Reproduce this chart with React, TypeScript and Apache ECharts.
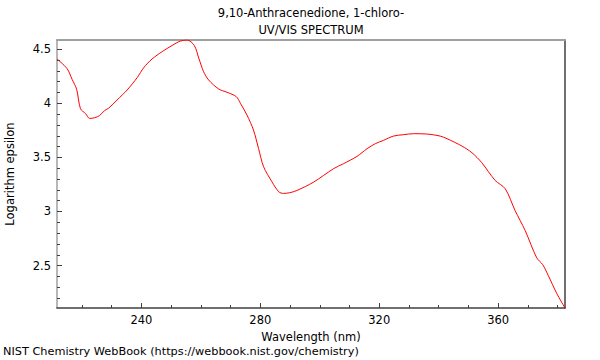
import React, { useEffect, useRef } from "react";
import * as echarts from "echarts";

const wavelengths = [
  211.6, 215.0, 216.7, 218.2, 219.5, 221.2, 222.6, 224.3, 225.9, 227.7, 229.0,
  231.8, 235.2, 238.6, 240.8, 243.6, 247.0, 250.3, 253.1, 255.4, 257.8, 259.3,
  260.9, 262.6, 266.0, 268.8, 271.9, 273.3, 275.5, 277.7, 279.4, 281.1, 283.9,
  286.2, 287.8, 289.8, 292.3, 297.9, 304.6, 308.0, 312.5, 315.9, 318.7, 321.4,
  324.8, 328.2, 331.5, 336.0, 340.5, 342.8, 347.8, 351.2, 354.5, 359.0, 362.4,
  365.7, 369.1, 373.0, 375.0, 376.9, 379.7, 382.5,
];
const logEpsilon = [
  4.41, 4.32, 4.22, 4.13, 3.95, 3.905, 3.86, 3.867, 3.886, 3.935, 3.955,
  4.03, 4.123, 4.238, 4.33, 4.41, 4.478, 4.534, 4.575, 4.585, 4.534, 4.417,
  4.293, 4.216, 4.132, 4.102, 4.062, 4.0, 3.892, 3.753, 3.583, 3.414, 3.275,
  3.182, 3.167, 3.173, 3.194, 3.271, 3.395, 3.442, 3.509, 3.58, 3.627, 3.657,
  3.697, 3.71, 3.719, 3.716, 3.697, 3.673, 3.605, 3.543, 3.451, 3.287, 3.21,
  3.009, 2.824, 2.571, 2.509, 2.407, 2.244, 2.108,
];
const xMajorTicks = [240, 280, 320, 360];
const xMinorTicks = [220, 230, 250, 260, 270, 290, 300, 310, 330, 340, 350, 370, 380];
const yMajorTicks = [2.5, 3, 3.5, 4, 4.5];
const yMinorTicks = [2.2, 2.3, 2.4, 2.6, 2.7, 2.8, 2.9, 3.1, 3.2, 3.3, 3.4, 3.6, 3.7, 3.8, 3.9, 4.1, 4.2, 4.3, 4.4];

const X_MIN = 211.6;
const X_MAX = 382.5;
const Y_MIN = 2.108;
const Y_MAX = 4.585;

const FONT = "DejaVu Sans";
const FS = 11.5;
const DARK = "#404040";
const GREY = "#a0a0a0";

export default function App() {
  const ref = useRef<HTMLDivElement>(null);
  useEffect(() => {
    if (!ref.current) return;
    const chart = echarts.init(ref.current, undefined, { renderer: "svg" });
    const base = { type: "value" as const, min: X_MIN, max: X_MAX, splitLine: { show: false } };
    const ybase = { type: "value" as const, min: Y_MIN, max: Y_MAX, splitLine: { show: false } };
    chart.setOption({
      animation: false,
      backgroundColor: "#fff",
      title: {
        text: "9,10-Anthracenedione, 1-chloro-\nUV/VIS SPECTRUM",
        left: 311,
        top: 4,
        padding: 0,
        textAlign: "center",
        textStyle: { fontFamily: FONT, fontSize: FS, fontWeight: "normal", color: "#000", lineHeight: 17 },
      },
      graphic: [
        {
          type: "text",
          left: 3,
          top: 346,
          style: { text: "NIST Chemistry WebBook (https://webbook.nist.gov/chemistry)", font: `11.3px '${FONT}'`, fill: "#000" },
        },
      ],
      grid: { left: 57, right: 35, top: 40, bottom: 52, containLabel: false, outerBoundsMode: "none" },
      xAxis: [
        {
          ...base,
          position: "bottom",
          name: "Wavelength (nm)",
          nameLocation: "middle",
          nameGap: 12,
          nameTextStyle: { fontFamily: FONT, fontSize: FS, color: "#000" },
          axisLine: { show: true, lineStyle: { color: DARK, width: 1.5 } },
          axisTick: { show: true, inside: true, length: 5, customValues: xMajorTicks, lineStyle: { color: DARK } },
          axisLabel: { show: true, customValues: xMajorTicks, margin: 6, fontFamily: FONT, fontSize: FS, color: "#000" },
        },
        {
          ...base,
          position: "bottom",
          axisLine: { show: false },
          axisTick: { show: true, inside: true, length: 3, customValues: xMinorTicks, lineStyle: { color: DARK } },
          axisLabel: { show: false },
        },
        {
          ...base,
          position: "top",
          axisLine: { show: true, lineStyle: { color: GREY, width: 2 } },
          axisTick: { show: false },
          axisLabel: { show: false },
        },
      ],
      yAxis: [
        {
          ...ybase,
          position: "left",
          name: "Logarithm epsilon",
          nameLocation: "middle",
          nameGap: 41,
          nameTextStyle: { fontFamily: FONT, fontSize: FS, color: "#000" },
          axisLine: { show: true, lineStyle: { color: GREY, width: 1.5 } },
          axisTick: { show: true, inside: true, length: 5, customValues: yMajorTicks, lineStyle: { color: DARK } },
          axisLabel: { show: true, customValues: yMajorTicks, margin: 6, fontFamily: FONT, fontSize: FS, color: "#000" },
        },
        {
          ...ybase,
          position: "left",
          axisLine: { show: false },
          axisTick: { show: true, inside: true, length: 3, customValues: yMinorTicks, lineStyle: { color: DARK } },
          axisLabel: { show: false },
        },
        {
          ...ybase,
          position: "right",
          axisLine: { show: true, lineStyle: { color: DARK, width: 1.5 } },
          axisTick: { show: false },
          axisLabel: { show: false },
        },
      ],
      series: [
        {
          type: "line",
          xAxisIndex: 0,
          yAxisIndex: 0,
          data: wavelengths.map((w, i) => [w, logEpsilon[i]]),
          showSymbol: false,
          smooth: 0.3,
          lineStyle: { color: "#ff0000", width: 1 },
          clip: true,
        },
      ],
    });
    return () => chart.dispose();
  }, []);
  return (
    <div
      ref={ref}
      style={{ position: "fixed", left: 0, top: 0, width: 600, height: 360, background: "#fff" }}
    />
  );
}
